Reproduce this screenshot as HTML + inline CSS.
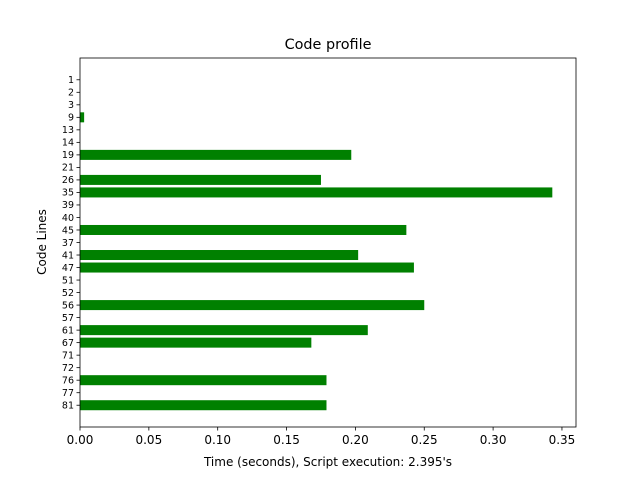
<!DOCTYPE html>
<html><head><meta charset="utf-8"><style>
body{margin:0;background:#fff;font-family:"DejaVu Sans","Liberation Sans",sans-serif;}
svg text{font-family:"DejaVu Sans","Liberation Sans",sans-serif;}
</style></head><body>
<svg id="chart" width="640" height="480" xmlns="http://www.w3.org/2000/svg">
<rect width="640" height="480" fill="#fff"/>
<text x="328" y="49" font-size="14.4" text-anchor="middle">Code profile</text>
<g id="bars"></g>
<g id="xticks"></g>
<g id="yticks"></g>
<rect x="80" y="58" width="496" height="369" fill="none" stroke="#000" stroke-width="0.8"/>
<text x="328" y="466" font-size="12" text-anchor="middle">Time (seconds), Script execution: 2.395's</text>
<text transform="translate(46,242) rotate(-90)" font-size="12" text-anchor="middle">Code Lines</text>
</svg>
<script>
const categories=["1","2","3","9","13","14","19","21","26","35","39","40","45","37","41","47","51","52","56","57","61","67","71","72","76","77","81"];
const values=[0,0,0,0.003,0,0,0.197,0,0.175,0.343,0,0,0.237,0,0.202,0.2425,0,0,0.250,0,0.209,0.168,0,0,0.179,0,0.179];
const xTicks=[0,0.05,0.10,0.15,0.20,0.25,0.30,0.35];
const xTickLabels=["0.00","0.05","0.10","0.15","0.20","0.25","0.30","0.35"];
const NS="http://www.w3.org/2000/svg";
const L=80,R=576,T=58,B=427,xMax=0.3602;
const n=categories.length, yMin=-0.4-0.05*(n-1+0.8), yMax=n-1+0.4+0.05*(n-1+0.8);
function xs(v){return L+v/xMax*(R-L);}
function ys(i){return T+(i-yMin)/(yMax-yMin)*(B-T);}
const ph=(B-T)/(yMax-yMin);
const gb=document.getElementById('bars'),gx=document.getElementById('xticks'),gy=document.getElementById('yticks');
function mk(t,a){const e=document.createElementNS(NS,t);for(const k in a)e.setAttribute(k,a[k]);return e;}
values.forEach((v,i)=>{
 const r=mk('rect',{x:xs(0),y:ys(i)-0.4*ph,width:xs(v)-xs(0),height:0.8*ph,fill:'#008000'});
 
 
 gb.appendChild(r);
});
categories.forEach((c,i)=>{
 const y=ys(i);
 const l=mk('line',{x1:L-3.5,x2:L,y1:y,y2:y,stroke:'#000','stroke-width':0.8});
 
 
 gy.appendChild(l);
 const t=mk('text',{x:L-6,y:y+3.3,'font-size':9.5,'text-anchor':'end'});
 t.textContent=c;
 
 
 gy.appendChild(t);
});
xTicks.forEach((v,i)=>{
 const x=xs(v);
 const l=mk('line',{x1:x,x2:x,y1:B,y2:B+3.5,stroke:'#000','stroke-width':0.8});
 
 
 gx.appendChild(l);
 const t=mk('text',{x:x,y:B+17,'font-size':12,'text-anchor':'middle'});
 t.textContent=xTickLabels[i];
 
 
 gx.appendChild(t);
});
</script>
</body></html>
